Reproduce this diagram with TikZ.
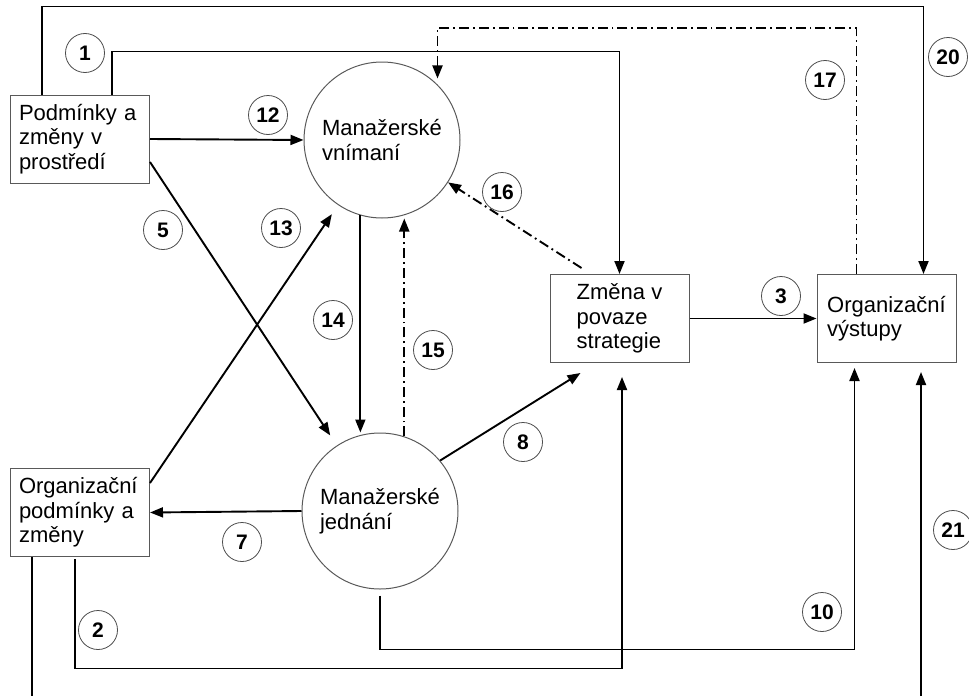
\documentclass[tikz,border=0pt]{standalone}
\usepackage{fontspec}
\setmainfont{Liberation Sans}
\usetikzlibrary{arrows.meta, positioning, calc}

\begin{document}
\begin{tikzpicture}[x=0.5pt, y=-0.5pt,
  box/.style={draw=black!65, line width=0.5pt, rectangle, minimum width=69.5pt, minimum height=44pt, inner sep=4pt, align=left, font=\fontsize{11}{12.3}\selectfont},
  txtbox/.style={box, text width=61pt},
  bubble/.style={draw=black!65, line width=0.5pt, circle, minimum size=78pt, inner sep=0pt, align=left, font=\fontsize{11}{12.3}\selectfont},
  num/.style={draw=black!70, line width=0.4pt, circle, minimum size=19.5pt, inner sep=0pt, font=\fontsize{10.5}{11}\selectfont\bfseries},
  link/.style={line width=0.95pt},
  arr/.style={link, -{Triangle[length=6.5pt, width=5pt]}},
  dasharr/.style={arr, dash pattern=on 5pt off 2pt on 0.9pt off 2pt},
]
\useasboundingbox (0,0) rectangle (969,696);

% Boxes and circles
\node[txtbox] (env) at (80,139) {Podmínky a\\změny v\\prostředí};
\node[txtbox] (org) at (80,512.5) {Organizační\\podmínky a\\změny};
\node[box] (strat) at (619.5,318.5) {Změna v\\povaze\\strategie};
\node[box] (out) at (886.5,318.5) {Organizační\\výstupy};
\node[bubble] (perc) at (382,140) {Manažerské\\vnímaní};
\node[bubble] (act) at (380,511) {Manažerské\\jednání};
\coordinate (bl) at (32,696);
\coordinate (br) at (921,696);

% Solid links
\draw[arr] ([xshift=16pt]env.north west) -- ++(0,-88) -| ([xshift=-16.5pt]out.north east);
\draw[arr] ([xshift=51pt]env.north west) -- ++(0,-43) -| (strat.north);
\draw[arr] (env.east) -- (perc.west);
\draw[arr, shorten >=6pt] ([yshift=-11.5pt]env.east) -- (act);
\draw[arr, shorten >=5.5pt] ([yshift=-7.5pt]org.north east) -- (perc);
\draw[arr] (perc.254) -- (perc.254 |- act.north);
\draw[arr] (act.west) -- (org.east);
\draw[arr] (act.40) -- ([xshift=15.5pt, yshift=-5pt]strat.south west);
\draw[arr] (strat.east) -- (out.west);
\draw[arr, shorten <=1pt, shorten >=7pt] ([xshift=32.5pt]org.south west) -- ++(0,111.5) -| ([xshift=1.25pt]strat.south);
\draw[arr, shorten <=3pt, shorten >=2.5pt] (act.south) -- ++(0,60) -| ([xshift=19pt]out.south west);
\draw[arr, shorten >=4.5pt] (br) -- (br |- out.south);
\draw[link] (bl |- org.south) -- (bl);

% Feedback links
\draw[dasharr] (act.72) -- (act.72 |- perc.south);
\draw[dasharr] ([xshift=16pt, yshift=3pt]strat.north west) -- (perc);
\draw[dasharr, shorten >=3pt] ([xshift=20pt]out.north west) -- ++(0,-246) -| (perc.45);

% Numbers
\node[num] (n1) at (85,53) {1};
\node[num] (n2) at (98,630) {2};
\node[num] (n3) at (781,296) {3};
\node[num] (n5) at (163,230) {5};
\node[num] (n7) at (242,542) {7};
\node[num] (n8) at (523,442) {8};
\node[num] (n10) at (822,612) {10};
\node[num] (n12) at (268,115) {12};
\node[num] (n13) at (281,228) {13};
\node[num] (n14) at (333,320) {14};
\node[num] (n15) at (433,350) {15};
\node[num] (n16) at (502,192) {16};
\node[num] (n17) at (825,80) {17};
\node[num] (n20) at (948,57) {20};
\node[num] (n21) at (953,530) {21};
\end{tikzpicture}
\end{document}
